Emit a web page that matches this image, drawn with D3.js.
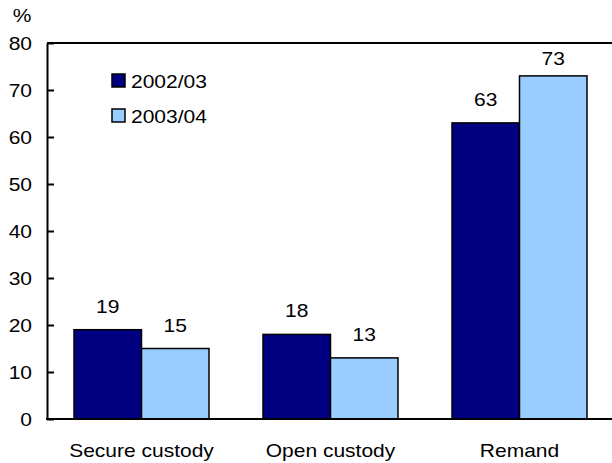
<!DOCTYPE html>
<meta charset="utf-8">
<title>Custody by type</title>
<style>
    body { margin: 0; background: #fff; }
    svg { display: block; font-family: "Liberation Sans", Arial, sans-serif; }
    svg text { font-size: 17.5px; fill: #000; }
</style>
<body>
<svg width="612" height="463"></svg>
<script src="https://d3js.org/d3.v7.min.js"></script>
<script>
    const categories = ["Secure custody", "Open custody", "Remand"];
    const seriesNames = ["2002/03", "2003/04"];
    const values2002 = [19, 18, 63];
    const values2003 = [15, 13, 73];
    const yTicks = [0, 10, 20, 30, 40, 50, 60, 70, 80];
    const colors = ["#000080", "#99ccff"];

    // the original text is a little wide, so stretch it horizontally
    const stretch = 1.2;

    const svg = d3.select("svg");
    const plotLeft = 47, plotRight = 614, plotTop = 43, plotBottom = 419;

    const x = d3.scaleBand()
        .domain(categories)
        .range([plotLeft, plotRight])
        .paddingInner(0.2857)
        .paddingOuter(0.1429);

    const xs = d3.scaleBand()
        .domain(seriesNames)
        .range([0, x.bandwidth()]);

    const y = d3.scaleLinear().domain([0, 80]).range([plotBottom, plotTop]);

    // top line of frame
    svg.append("line")
        .attr("x1", plotLeft).attr("x2", 612)
        .attr("y1", plotTop).attr("y2", plotTop)
        .attr("stroke", "#000").attr("stroke-width", 2);

    const yAxis = svg.append("g")
        .attr("transform", `translate(${plotLeft},0)`)
        .call(d3.axisRight(y).tickValues(yTicks).tickSize(7).tickSizeOuter(0));
    yAxis.attr("font-size", null).attr("font-family", null);
    yAxis.select(".domain").attr("stroke", "#000").attr("stroke-width", 2);
    yAxis.selectAll(".tick line").attr("stroke", "#000").attr("stroke-width", 2);
    yAxis.selectAll(".tick text")
        .attr("text-anchor", "end")
        .attr("x", -15 / stretch)
        .attr("dy", "0.35em")
        .attr("transform", `scale(${stretch},1)`);

    svg.append("text")
        .attr("transform", `translate(22,22) scale(${stretch},1)`)
        .attr("text-anchor", "middle")
        .text("%");

    const data = categories.map((c, i) => ({
        category: c,
        bars: [
            { series: seriesNames[0], value: values2002[i] },
            { series: seriesNames[1], value: values2003[i] }
        ]
    }));

    const groups = svg.append("g")
        .selectAll("g")
        .data(data)
        .join("g")
        .attr("transform", d => `translate(${x(d.category)},0)`);

    groups.selectAll("rect")
        .data(d => d.bars)
        .join("rect")
        .attr("x", d => xs(d.series))
        .attr("y", d => y(d.value))
        .attr("width", xs.bandwidth())
        .attr("height", d => plotBottom - y(d.value))
        .attr("fill", (d, i) => colors[i])
        .attr("stroke", "#000")
        .attr("stroke-width", 1.5);

    // value labels sit above the bar, but are kept below the top line
    groups.selectAll("text.value")
        .data(d => d.bars)
        .join("text")
        .attr("class", "value")
        .attr("transform", d => {
            const ly = Math.max(y(d.value) - 17, plotTop + 22);
            return `translate(${xs(d.series) + xs.bandwidth() / 2},${ly}) scale(${stretch},1)`;
        })
        .attr("text-anchor", "middle")
        .text(d => d.value);

    // category labels
    const xAxis = svg.append("g")
        .attr("transform", `translate(0,${plotBottom})`)
        .call(d3.axisBottom(x).tickSize(0).tickPadding(0));
    xAxis.attr("font-size", null).attr("font-family", null);
    xAxis.select(".domain").remove();
    xAxis.selectAll(".tick text")
        .attr("dy", null)
        .attr("y", 38)
        .attr("transform", `scale(${stretch},1)`);

    svg.append("line")
        .attr("x1", plotLeft - 1).attr("x2", 612)
        .attr("y1", plotBottom).attr("y2", plotBottom)
        .attr("stroke", "#000").attr("stroke-width", 2);

    // legend
    const legend = svg.append("g")
        .selectAll("g")
        .data(seriesNames)
        .join("g")
        .attr("transform", (d, i) => `translate(112,${74 + i * 35})`);
    legend.append("rect")
        .attr("width", 13).attr("height", 13)
        .attr("fill", (d, i) => colors[i])
        .attr("stroke", "#000").attr("stroke-width", 1.5);
    legend.append("text")
        .attr("transform", `translate(19,14) scale(${stretch},1)`)
        .text(d => d);
</script>
</body>
